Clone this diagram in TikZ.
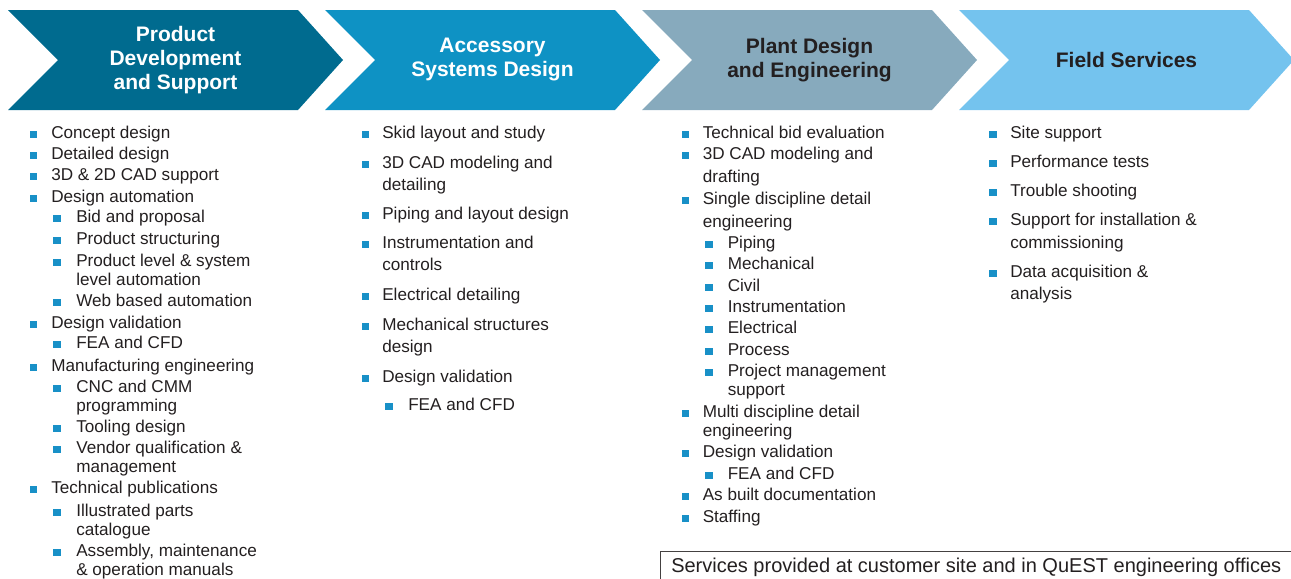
\documentclass[tikz,border=0pt]{standalone}
\usepackage{fontspec}
\setmainfont{Liberation Sans}
\usetikzlibrary{positioning}
\definecolor{chevA}{RGB}{0,107,143}
\definecolor{chevB}{RGB}{14,146,196}
\definecolor{chevC}{RGB}{135,170,189}
\definecolor{chevD}{RGB}{116,195,238}
\definecolor{ink}{RGB}{35,31,32}
\definecolor{bul}{RGB}{24,144,199}
\tikzstyle{head} = [align=center, inner sep=0pt,
    font=\fontsize{15.75}{18}\selectfont\bfseries]
\tikzstyle{entry} = [anchor=base west, inner sep=0pt, text=ink,
    font=\fontsize{12.85}{14.25}\selectfont]
\tikzstyle{sq} = [rectangle, fill=bul, inner sep=0pt, minimum size=5.3pt, anchor=south]
\tikzstyle{frame} = [draw=ink!85, line width=0.75pt]
\newcommand{\chevron}[2]{\fill[#2] (#1,10) -- ++(290,0) -- ++(45,50) -- ++(-45,50)
    -- ++(-290,0) -- ++(50,-50) -- cycle;}
% first line of an entry sits on the node baseline
\newcommand{\lines}[1]{\begin{tabular}[t]{@{}l@{}}#1\end{tabular}}

\begin{document}
\begin{tikzpicture}[x=0.75pt, y=-0.75pt]
  \useasboundingbox (0,0) rectangle (1291,578);
  % Place chevrons
  \chevron{8}{chevA}
  \chevron{325}{chevB}
  \chevron{642}{chevC}
  \chevron{959}{chevD}

  \node [head, text=white] (prod) at (175.5,60) {Product\\Development\\and Support};
  \node [head, text=white] (acc) at (492.5,60) {Accessory\\Systems Design};
  \node [head, text=ink] (plant) at (809.5,60) {Plant Design\\and Engineering};
  \node [head, text=ink] (field) at (1126.5,60) {Field Services};

  % Product development list
  \foreach \y/\t in {138/Concept design, 159/Detailed design, 180/3D \& 2D CAD support,
      202/Design automation, 328/Design validation, 371/Manufacturing engineering,
      493/Technical publications}{
    \node [sq] (pb\y) at (33.5,\y) {};
    \node [entry] (pt\y) at (51,\y) {\lines{\t}};
  }
  \foreach \y/\t in {222/Bid and proposal, 244/Product structuring,
      {266/Product level \& system\\level automation}, 306/Web based automation,
      348/FEA and CFD, {392/CNC and CMM\\programming}, 432/Tooling design,
      {453/Vendor qualification \&\\management}, {516/Illustrated parts\\catalogue},
      {556/Assembly, maintenance\\\& operation manuals}}{
    \node [sq] (ps\y) at (57,\y) {};
    \node [entry] (pu\y) at (76,\y) {\lines{\t}};
  }

  % Accessory systems list
  \foreach \y/\t in {138/Skid layout and study, {168/3D CAD modeling and\\[2.6pt]detailing},
      219/Piping and layout design, {248/Instrumentation and\\[2.6pt]controls},
      300/Electrical detailing, {330/Mechanical structures\\[2.6pt]design},
      382/Design validation}{
    \node [sq] (ab\y) at (365.5,\y) {};
    \node [entry] (at\y) at (382,\y) {\lines{\t}};
  }
  \node [sq] (as410) at (389,410) {};
  \node [entry] (au410) at (408,410) {FEA and CFD};

  % Plant design list
  \foreach \y/\t in {138/Technical bid evaluation, {159/3D CAD modeling and\\[3pt]drafting},
      {204/Single discipline detail\\[3pt]engineering}, {417/Multi discipline detail\\engineering},
      457/Design validation, 500/As built documentation, 522/Staffing}{
    \node [sq] (gb\y) at (685.5,\y) {};
    \node [entry] (gt\y) at (702.5,\y) {\lines{\t}};
  }
  \foreach \y/\t in {248/Piping, 269/Mechanical, 291/Civil, 312/Instrumentation,
      333/Electrical, 355/Process, {376/Project management\\support}, 479/FEA and CFD}{
    \node [sq] (gs\y) at (709,\y) {};
    \node [entry] (gu\y) at (727.5,\y) {\lines{\t}};
  }

  % Field services list
  \foreach \y/\t in {138/Site support, 167/Performance tests, 196/Trouble shooting,
      {225/Support for installation \&\\[3pt]commissioning}, {277/Data acquisition \&\\[2.6pt]analysis}}{
    \node [sq] (fb\y) at (993,\y) {};
    \node [entry] (ft\y) at (1010,\y) {\lines{\t}};
  }

  \node [entry, font=\fontsize{15}{17}\selectfont] (note) at (671,572)
        {Services provided at customer site and in QuEST engineering offices};
  \draw [frame] (660,580) |- (1295,551);
\end{tikzpicture}
\end{document}
